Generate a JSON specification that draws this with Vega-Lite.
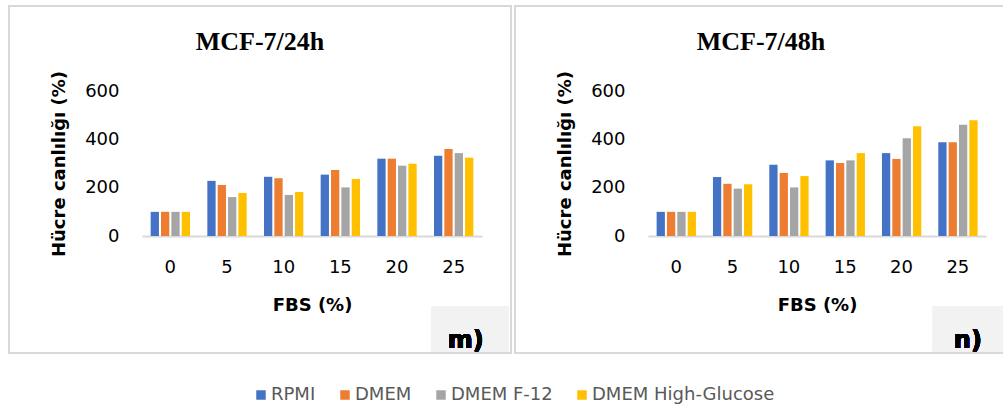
{
  "$schema": "https://vega.github.io/schema/vega-lite/v6.json",
  "padding": {"left": 8, "top": 5, "right": 0, "bottom": 0},
  "background": "white",
  "spacing": 2,
  "config": {
    "view": {"stroke": "#d9d9d9", "strokeWidth": 2},
    "font": "DejaVu Sans",
    "axis": {"grid": false, "ticks": false, "labelColor": "#000000", "titleColor": "#000000", "labelFont": "DejaVu Sans", "labelFontSize": 18, "titleFont": "DejaVu Sans", "titleFontSize": 18, "titleFontWeight": "bold"},
    "title": {"font": "Liberation Serif", "fontSize": 26, "fontWeight": "bold", "color": "#000000", "anchor": "middle", "offset": -49, "baseline": "alphabetic"},
    "legend": {"orient": "none", "legendX": 243, "legendY": 380, "direction": "horizontal", "padding": 0, "symbolType": "square", "symbolSize": 90, "symbolStrokeWidth": 0, "labelFont": "DejaVu Sans", "labelFontSize": 18, "labelColor": "#595959", "labelLimit": 0, "columnPadding": 20, "labelOffset": 1}
  },
  "datasets": {
    "h24": [
      {"FBS": 0, "Medium": "RPMI", "Viability": 100},
      {"FBS": 0, "Medium": "DMEM", "Viability": 100},
      {"FBS": 0, "Medium": "DMEM F-12", "Viability": 100},
      {"FBS": 0, "Medium": "DMEM High-Glucose", "Viability": 100},
      {"FBS": 5, "Medium": "RPMI", "Viability": 228},
      {"FBS": 5, "Medium": "DMEM", "Viability": 211},
      {"FBS": 5, "Medium": "DMEM F-12", "Viability": 161},
      {"FBS": 5, "Medium": "DMEM High-Glucose", "Viability": 178},
      {"FBS": 10, "Medium": "RPMI", "Viability": 245},
      {"FBS": 10, "Medium": "DMEM", "Viability": 239},
      {"FBS": 10, "Medium": "DMEM F-12", "Viability": 170},
      {"FBS": 10, "Medium": "DMEM High-Glucose", "Viability": 182},
      {"FBS": 15, "Medium": "RPMI", "Viability": 254},
      {"FBS": 15, "Medium": "DMEM", "Viability": 273},
      {"FBS": 15, "Medium": "DMEM F-12", "Viability": 201},
      {"FBS": 15, "Medium": "DMEM High-Glucose", "Viability": 236},
      {"FBS": 20, "Medium": "RPMI", "Viability": 320},
      {"FBS": 20, "Medium": "DMEM", "Viability": 320},
      {"FBS": 20, "Medium": "DMEM F-12", "Viability": 291},
      {"FBS": 20, "Medium": "DMEM High-Glucose", "Viability": 299},
      {"FBS": 25, "Medium": "RPMI", "Viability": 332},
      {"FBS": 25, "Medium": "DMEM", "Viability": 360},
      {"FBS": 25, "Medium": "DMEM F-12", "Viability": 343},
      {"FBS": 25, "Medium": "DMEM High-Glucose", "Viability": 324}
    ],
    "h48": [
      {"FBS": 0, "Medium": "RPMI", "Viability": 100},
      {"FBS": 0, "Medium": "DMEM", "Viability": 100},
      {"FBS": 0, "Medium": "DMEM F-12", "Viability": 100},
      {"FBS": 0, "Medium": "DMEM High-Glucose", "Viability": 100},
      {"FBS": 5, "Medium": "RPMI", "Viability": 244},
      {"FBS": 5, "Medium": "DMEM", "Viability": 216},
      {"FBS": 5, "Medium": "DMEM F-12", "Viability": 196},
      {"FBS": 5, "Medium": "DMEM High-Glucose", "Viability": 214},
      {"FBS": 10, "Medium": "RPMI", "Viability": 295},
      {"FBS": 10, "Medium": "DMEM", "Viability": 261},
      {"FBS": 10, "Medium": "DMEM F-12", "Viability": 201},
      {"FBS": 10, "Medium": "DMEM High-Glucose", "Viability": 248},
      {"FBS": 15, "Medium": "RPMI", "Viability": 313},
      {"FBS": 15, "Medium": "DMEM", "Viability": 302},
      {"FBS": 15, "Medium": "DMEM F-12", "Viability": 313},
      {"FBS": 15, "Medium": "DMEM High-Glucose", "Viability": 343},
      {"FBS": 20, "Medium": "RPMI", "Viability": 343},
      {"FBS": 20, "Medium": "DMEM", "Viability": 319},
      {"FBS": 20, "Medium": "DMEM F-12", "Viability": 405},
      {"FBS": 20, "Medium": "DMEM High-Glucose", "Viability": 454},
      {"FBS": 25, "Medium": "RPMI", "Viability": 388},
      {"FBS": 25, "Medium": "DMEM", "Viability": 388},
      {"FBS": 25, "Medium": "DMEM F-12", "Viability": 460},
      {"FBS": 25, "Medium": "DMEM High-Glucose", "Viability": 479}
    ]
  },
  "hconcat": [
    {
      "width": 502,
      "height": 347,
      "title": {"text": "MCF-7/24h"},
      "data": {"name": "h24"},
      "layer": [
        {
          "mark": {"type": "bar"},
          "encoding": {
            "x": {"field": "FBS", "type": "ordinal", "title": "FBS (%)",
              "scale": {"range": [133, 473], "paddingInner": 0.306, "paddingOuter": 0.153},
              "axis": {"offset": -117, "labelAngle": 0, "labelPadding": 22, "titlePadding": 20, "domainColor": "#d9d9d9", "domainWidth": 2}},
            "xOffset": {"field": "Medium", "type": "nominal", "sort": ["RPMI", "DMEM", "DMEM F-12", "DMEM High-Glucose"], "scale": {"paddingInner": 0.2, "paddingOuter": 0}},
            "y": {"field": "Viability", "type": "quantitative", "title": "Hücre canlılığı (%)",
              "scale": {"domain": [0, 600], "range": [230, 85]},
              "axis": {"values": [0, 200, 400, 600], "offset": -114, "domain": false, "labelPadding": 4, "titlePadding": 16}},
            "color": {"field": "Medium", "type": "nominal", "title": null,
              "scale": {"domain": ["RPMI", "DMEM", "DMEM F-12", "DMEM High-Glucose"], "range": ["#4472C4", "#ED7D31", "#A5A5A5", "#FFC000"]}}
          }
        },
        {
          "mark": {"type": "point", "shape": "M-1,-0.584L1,-0.584L1,0.584L-1,0.584Z", "filled": true, "color": "#f2f2f2", "opacity": 1, "strokeWidth": 0, "size": 5929, "xOffset": 16, "yOffset": 93},
          "encoding": {"x": {"datum": 25, "type": "ordinal"}, "y": {"datum": 0, "type": "quantitative"}}
        },
        {
          "mark": {"type": "text", "text": "m)", "font": "DejaVu Sans", "fontSize": 24, "fontWeight": "bold", "color": "#000000", "baseline": "alphabetic", "dx": 12, "dy": 112},
          "encoding": {"x": {"datum": 25, "type": "ordinal"}, "y": {"datum": 0, "type": "quantitative"}}
        }
      ]
    },
    {
      "width": 492,
      "height": 347,
      "title": {"text": "MCF-7/48h"},
      "data": {"name": "h48"},
      "layer": [
        {
          "mark": {"type": "bar"},
          "encoding": {
            "x": {"field": "FBS", "type": "ordinal", "title": "FBS (%)",
              "scale": {"range": [133, 471], "paddingInner": 0.306, "paddingOuter": 0.153},
              "axis": {"offset": -117, "labelAngle": 0, "labelPadding": 22, "titlePadding": 20, "domainColor": "#d9d9d9", "domainWidth": 2}},
            "xOffset": {"field": "Medium", "type": "nominal", "sort": ["RPMI", "DMEM", "DMEM F-12", "DMEM High-Glucose"], "scale": {"paddingInner": 0.2, "paddingOuter": 0}},
            "y": {"field": "Viability", "type": "quantitative", "title": "Hücre canlılığı (%)",
              "scale": {"domain": [0, 600], "range": [230, 85]},
              "axis": {"values": [0, 200, 400, 600], "offset": -114, "domain": false, "labelPadding": 4, "titlePadding": 16}},
            "color": {"field": "Medium", "type": "nominal", "title": null,
              "scale": {"domain": ["RPMI", "DMEM", "DMEM F-12", "DMEM High-Glucose"], "range": ["#4472C4", "#ED7D31", "#A5A5A5", "#FFC000"]}}
          }
        },
        {
          "mark": {"type": "point", "shape": "M-1,-0.608L1,-0.608L1,0.608L-1,0.608Z", "filled": true, "color": "#f2f2f2", "opacity": 1, "strokeWidth": 0, "size": 5476, "xOffset": 12, "yOffset": 93},
          "encoding": {"x": {"datum": 25, "type": "ordinal"}, "y": {"datum": 0, "type": "quantitative"}}
        },
        {
          "mark": {"type": "text", "text": "n)", "font": "DejaVu Sans", "fontSize": 24, "fontWeight": "bold", "color": "#000000", "baseline": "alphabetic", "dx": 10, "dy": 112},
          "encoding": {"x": {"datum": 25, "type": "ordinal"}, "y": {"datum": 0, "type": "quantitative"}}
        }
      ]
    }
  ]
}
